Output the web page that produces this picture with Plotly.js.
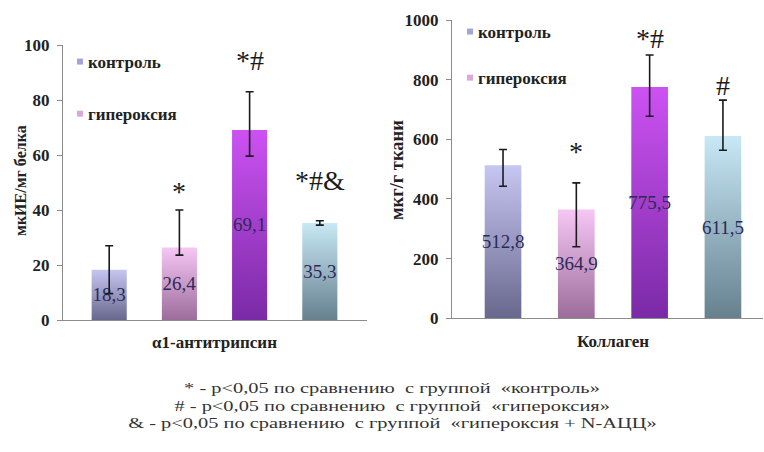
<!DOCTYPE html>
<html>
<head>
<meta charset="utf-8">
<script src="https://cdn.plot.ly/plotly-3.0.1.min.js"></script>
<style>
  html, body { margin: 0; padding: 0; background: #ffffff; }
  #chart { width: 764px; height: 452px; }
</style>
</head>
<body>
<div id="chart"></div>
<script>
// ---- data ----
const groups = ['контроль', 'гипероксия', 'гипероксия + N-АЦЦ', 'N-АЦЦ'];
const shownInLegend = [true, true, false, false];

const categoryA = 'α1-антитрипсин';
const valuesA = [18.3, 26.4, 69.1, 35.3];
const errPlusA = [8.7, 13.6, 13.9, 0.8];
const errMinusA = [8.7, 2.8, 9.5, 0.8];
const marksA = ['', '*', '*#', '*#&'];

const categoryB = 'Коллаген';
const valuesB = [512.8, 364.9, 775.5, 611.5];
const errPlusB = [53, 89, 107, 120];
const errMinusB = [70, 125, 98, 48];
const marksB = ['', '*', '*#', '#'];

const yTitleA = 'мкИЕ/мг белка';
const yTitleB = 'мкг/г ткани';

const footnotes = [
  '* - р&lt;0,05 по сравнению  с группой  «контроль»',
  '# - р&lt;0,05 по сравнению  с группой  «гипероксия»',
  '&amp; - р&lt;0,05 по сравнению  с группой  «гипероксия + N-АЦЦ»'
];

// ---- styles ----
const FONT = "'Liberation Serif', 'DejaVu Serif', serif";
const swatch = ['#a4a4d6', '#dca8dc', '#a440d4', '#9cbccc'];
const gradTop = ['#c6c6f2', '#f6c6f4', '#cc52f2', '#c8e8f6'];
const gradBot = ['#68688e', '#9c6c9a', '#7a2aa6', '#66808e'];
const labelColor = '#2a2a58';
const footStretch = 1.36;

function fmt(v) { return v.toFixed(1).replace('.', ','); }

const traces = [];
function addPanel(category, values, ep, em, xa, ya, legendId) {
  groups.forEach((g, i) => {
    traces.push({
      type: 'bar',
      name: g,
      meta: i,
      legend: legendId,
      legendgroup: legendId + g,
      showlegend: shownInLegend[i],
      x: [category],
      y: [values[i]],
      xaxis: xa,
      yaxis: ya,
      marker: { color: swatch[i], line: { width: 0 } },
      text: [fmt(values[i])],
      textposition: 'inside',
      insidetextanchor: 'middle',
      constraintext: 'none',
      textangle: 0,
      insidetextfont: { family: FONT, size: 19, color: labelColor },
      error_y: {
        type: 'data', symmetric: false,
        array: [ep[i]], arrayminus: [em[i]],
        color: '#1a1a1a', thickness: 1.6, width: 4
      },
      hoverinfo: 'skip'
    });
  });
}
addPanel(categoryA, valuesA, errPlusA, errMinusA, 'x', 'y', 'legend');
addPanel(categoryB, valuesB, errPlusB, errMinusB, 'x2', 'y2', 'legend2');

const offset = i => (i - 1.5) * 0.25;

const annotations = [];
const markYA = [0, 46.9, 94.5, 50.9];
const markYB = [0, 560, 939, 781];
marksA.forEach((m, i) => { if (m) annotations.push({
  xref: 'x', yref: 'y', x: offset(i), y: markYA[i], text: m, showarrow: false,
  xanchor: 'center', yanchor: 'middle', font: { family: FONT, size: 28, color: '#1a1a1a' } }); });
marksB.forEach((m, i) => { if (m) annotations.push({
  xref: 'x2', yref: 'y2', x: offset(i), y: markYB[i], text: m, showarrow: false,
  xanchor: 'center', yanchor: 'middle', font: { family: FONT, size: 28, color: '#1a1a1a' } }); });

annotations.push({ xref: 'paper', yref: 'paper', x: 20 / 764, y: 1 - 181 / 452, text: yTitleA,
  textangle: -90, showarrow: false, xanchor: 'center', yanchor: 'middle',
  font: { family: FONT, size: 16, color: '#222', weight: 'bold' } });
annotations.push({ xref: 'paper', yref: 'paper', x: 397 / 764, y: 1 - 170 / 452, text: yTitleB,
  textangle: -90, showarrow: false, xanchor: 'center', yanchor: 'middle',
  font: { family: FONT, size: 18.5, color: '#222', weight: 'bold' } });

const footStart = annotations.length;
const footY = [387.5, 405.5, 423];
footnotes.forEach((t, k) => annotations.push({
  xref: 'paper', yref: 'paper', x: 392 / 764, y: 1 - footY[k] / 452, text: t,
  showarrow: false, xanchor: 'center', yanchor: 'middle',
  font: { family: FONT, size: 15, color: '#333' } }));

const axisLine = '#8c8c8c';
const tickFont = { family: FONT, size: 17, color: '#222', weight: 'bold' };

const layout = {
  width: 764, height: 452,
  margin: { l: 0, r: 0, t: 0, b: 0 },
  paper_bgcolor: '#ffffff', plot_bgcolor: '#ffffff',
  font: { family: FONT, color: '#222' },
  barmode: 'group', bargap: 0, bargroupgap: 0.5,
  showlegend: true,
  xaxis: {
    domain: [63 / 764, 367 / 764], anchor: 'y', type: 'category',
    range: [-0.5395, 0.543], showline: true, linecolor: axisLine, linewidth: 1,
    ticks: '', showgrid: false, zeroline: false, tickfont: tickFont, ticklabelstandoff: 7
  },
  yaxis: {
    domain: [1 - 320 / 452, 1 - 45 / 452], anchor: 'x', range: [0, 100], dtick: 20,
    showline: true, linecolor: axisLine, linewidth: 1, ticks: 'outside', ticklen: 5,
    tickcolor: axisLine, showgrid: false, zeroline: false, tickfont: tickFont, ticklabelstandoff: 4
  },
  xaxis2: {
    domain: [452 / 764, 763 / 764], anchor: 'y2', type: 'category',
    range: [-0.549, 0.5116], showline: true, linecolor: axisLine, linewidth: 1,
    ticks: '', showgrid: false, zeroline: false, tickfont: tickFont, ticklabelstandoff: 7
  },
  yaxis2: {
    domain: [1 - 318.3 / 452, 1 - 20 / 452], anchor: 'x2', range: [0, 1000], dtick: 200,
    showline: true, linecolor: axisLine, linewidth: 1, ticks: 'outside', ticklen: 5,
    tickcolor: axisLine, showgrid: false, zeroline: false, tickfont: tickFont, ticklabelstandoff: 4
  },
  legend: {
    x: 48 / 764, xanchor: 'left', y: 1 - 44 / 452, yanchor: 'top',
    bgcolor: 'rgba(0,0,0,0)', traceorder: 'grouped', tracegroupgap: 27,
    font: { family: FONT, size: 17, color: '#222', weight: 'bold' }
  },
  legend2: {
    x: 438 / 764, xanchor: 'left', y: 1 - 14 / 452, yanchor: 'top',
    bgcolor: 'rgba(0,0,0,0)', traceorder: 'grouped', tracegroupgap: 21,
    font: { family: FONT, size: 17, color: '#222', weight: 'bold' }
  },
  annotations: annotations
};

Plotly.newPlot('chart', traces, layout, { staticPlot: true, displayModeBar: false }).then(gd => {
  const ns = 'http://www.w3.org/2000/svg';
  const svg = gd.querySelector('.main-svg');
  let defs = svg.querySelector('defs');
  if (!defs) { defs = document.createElementNS(ns, 'defs'); svg.insertBefore(defs, svg.firstChild); }
  groups.forEach((g, i) => {
    const lg = document.createElementNS(ns, 'linearGradient');
    lg.setAttribute('id', 'barGrad' + i);
    lg.setAttribute('x1', '0'); lg.setAttribute('y1', '0');
    lg.setAttribute('x2', '0'); lg.setAttribute('y2', '1');
    [[0, gradTop[i]], [1, gradBot[i]]].forEach(([o, c]) => {
      const s = document.createElementNS(ns, 'stop');
      s.setAttribute('offset', o); s.setAttribute('stop-color', c);
      lg.appendChild(s);
    });
    defs.appendChild(lg);
  });
  gd.querySelectorAll('.barlayer .trace').forEach(el => {
    const cd = el.__data__;
    if (!cd || !cd[0] || !cd[0].trace) return;
    const gi = cd[0].trace.meta;
    el.querySelectorAll('.point path').forEach(p => { p.style.fill = 'url(#barGrad' + gi + ')'; });
  });
  gd.querySelectorAll('.legendpoints path').forEach(p => {
    p.setAttribute('d', 'M3,3H-3V-3H3Z');
    p.setAttribute('transform', 'translate(32,0)');
  });
  // footnotes in the reference are horizontally stretched
  gd.querySelectorAll('.annotation').forEach(a => {
    const idx = +a.getAttribute('data-index');
    if (idx < footStart) return;
    const t = a.querySelector('text.annotation-text');
    if (!t) return;
    const bb = t.getBBox();
    const cx = bb.x + bb.width / 2;
    t.setAttribute('transform', `translate(${cx},0) scale(${footStretch},1) translate(${-cx},0)`);
  });
});
</script>
</body>
</html>
